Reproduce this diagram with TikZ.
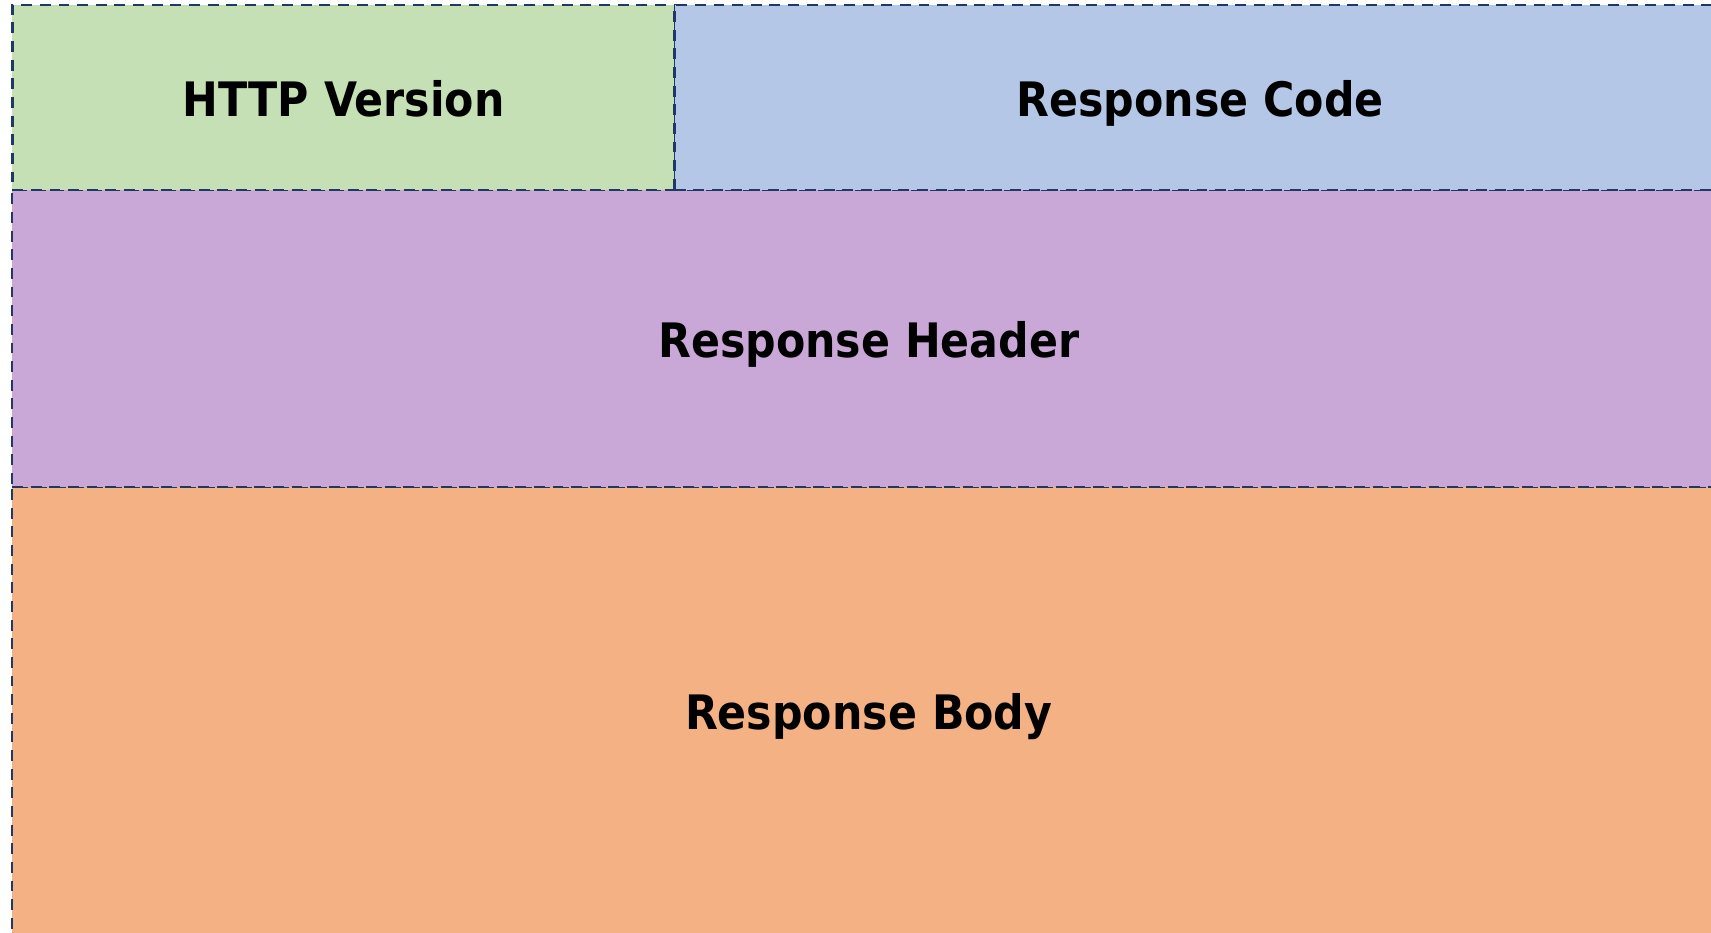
\documentclass[tikz,border=0pt]{standalone}
\usepackage{fontspec}
\setmainfont{DejaVu Sans}[FakeStretch=0.9]
\definecolor{cgreen}{HTML}{C5E0B4}
\definecolor{cblue}{HTML}{B4C7E7}
\definecolor{cpurple}{HTML}{C9A7D7}
\definecolor{corange}{HTML}{F4B183}
\definecolor{cborder}{HTML}{1F3864}
\tikzset{
  cell/.style={draw=cborder, line width=0.75pt, dash pattern=on 3.1pt off 2.2pt,
    rectangle, inner sep=0pt, text height=11pt, text depth=0pt,
    font=\fontsize{13.5pt}{15pt}\selectfont\bfseries, text=black},
}
\begin{document}
\begin{tikzpicture}[x=0.01cm, y=-0.01cm]
\useasboundingbox (0,0) rectangle (1711,932);
\clip (0,0) rectangle (1711,932);
\node[cell, fill=corange, minimum width=17.125cm, minimum height=4.472cm] (body) at (868.75,710.6) {Response Body};
\node[cell, fill=cpurple, minimum width=17.125cm, minimum height=2.97cm] (header) at (868.75,338.5) {Response Header};
\node[cell, fill=cgreen, minimum width=6.625cm, minimum height=1.85cm] (version) at (343.75,97.5) {HTTP Version};
\node[cell, fill=cblue, minimum width=10.5cm, minimum height=1.85cm] (code) at (1200,97.5) {Response Code};
\end{tikzpicture}
\end{document}
